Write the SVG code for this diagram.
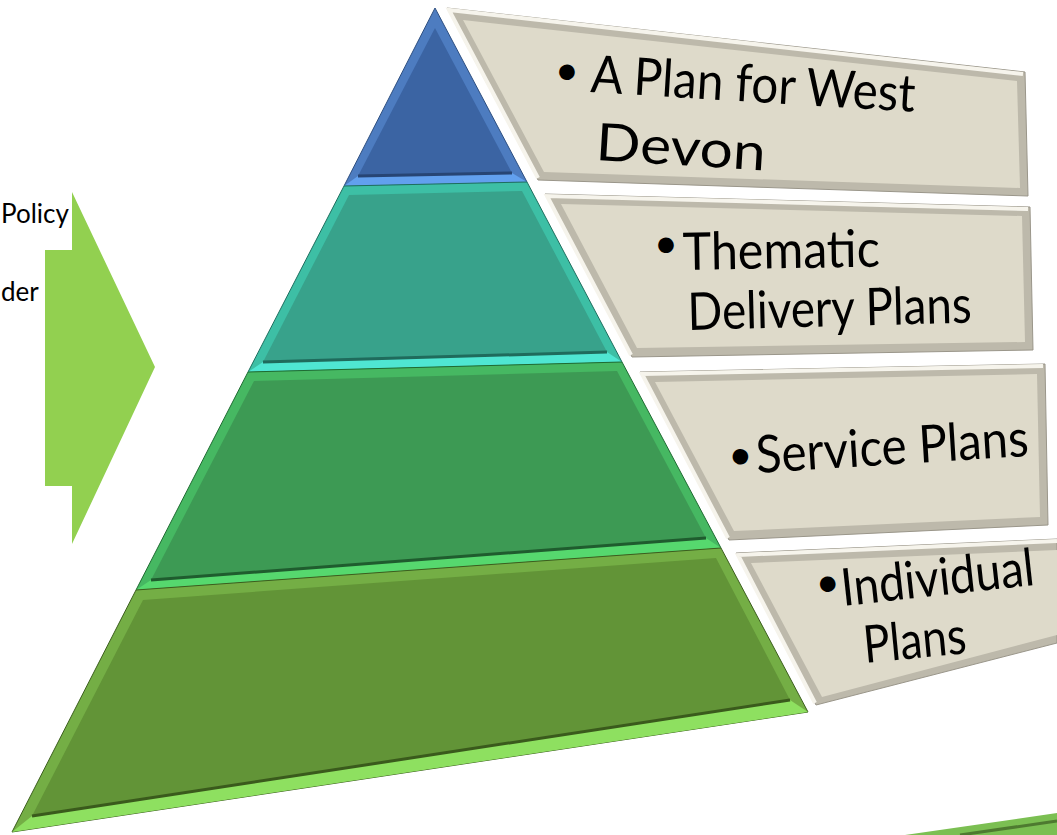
<svg xmlns="http://www.w3.org/2000/svg" width="1057" height="835" viewBox="0 0 1057 835">
<style>
.side{font-family:Lato,"Open Sans","Liberation Sans",sans-serif;font-size:26px;fill:#000}
.lbl{font-family:Lato,"Open Sans","Liberation Sans",sans-serif;font-size:52px;fill:#000}
.bul{font-family:Lato,"Open Sans","Liberation Sans",sans-serif;font-size:42px;fill:#000}
.boxo{fill:#BDB9AB;stroke:#9A968A;stroke-width:1}
.boxi{fill:#DEDACA}
.hl{fill:none;stroke:#F6F4EC;stroke-width:4}
</style>
<rect width="1057" height="835" fill="#FFFFFF"/>
<g id="side-text">
<text class="side" x="1" y="223">Policy</text>
<text class="side" x="1" y="301">der</text>
</g>
<g id="arrow">
<polygon points="45,250 72,250 72,192 155,367 72,544 72,486 45,486" fill="#92D050"/>
</g>
<g id="tier-blue">
<polygon points="435,8 527,182 344,186" fill="#4D7CC0" stroke="#2E4F80" stroke-width="1"/>
<polygon points="435,28 512,173 358,176" fill="#3B64A3"/>
<polygon points="358,176 512,173 527,182 344,186" fill="#62A0EE"/>
<polyline points="358,176 512,173" fill="none" stroke="#274574" stroke-width="3"/>
</g>
<g id="tier-teal">
<polygon points="344,186 527,182 622,362 248,372" fill="#3DBFA5" stroke="#1E6E5E" stroke-width="1"/>
<polygon points="349,195 522,191 607,352 263,362" fill="#38A28B"/>
<polygon points="263,362 607,352 622,362 248,372" fill="#4FE6D2"/>
<polyline points="263,362 607,352" fill="none" stroke="#1F6B5C" stroke-width="3"/>
</g>
<g id="tier-green">
<polygon points="248,372 622,362 721,548 136,590" fill="#46B862" stroke="#1F6B32" stroke-width="1"/>
<polygon points="254,381 617,371 706,538 151,580" fill="#3D9A54"/>
<polygon points="151,580 706,538 721,548 136,590" fill="#56D86E"/>
<polyline points="151,580 706,538" fill="none" stroke="#1F5C2E" stroke-width="3"/>
</g>
<g id="tier-olive">
<polygon points="136,590 721,548 808,712 12,832" fill="#74AE45" stroke="#3C5E1E" stroke-width="1"/>
<polygon points="143,600 716,558 790,700 32,816" fill="#629437"/>
<polygon points="32,816 790,700 808,712 12,832" fill="#8EE060"/>
<polyline points="32,816 790,700" fill="none" stroke="#3A5A1C" stroke-width="3"/>
</g>
<g id="box-1">
<polygon class="boxo" points="447,8 1025,72 1028,196 538,180"/>
<polygon class="boxi" points="463,20 1017,81 1020,188 544,172"/>
<polyline class="hl" points="538,178 449,10 1023,74"/>
<text class="bul" transform="translate(554,84) rotate(3.5)">•</text>
<text class="lbl" transform="translate(590,92) rotate(3.5)" textLength="325" lengthAdjust="spacingAndGlyphs">A Plan for West</text>
<text class="lbl" transform="translate(595,160) rotate(3.5)" textLength="170" lengthAdjust="spacingAndGlyphs">Devon</text>
</g>
<g id="box-2">
<polygon class="boxo" points="545,194 1030,207 1033,350 632,357"/>
<polygon class="boxi" points="561,204 1022,216 1025,342 637,348"/>
<polyline class="hl" points="631,355 547,196 1028,209"/>
<text class="bul" transform="translate(654,258) rotate(-1)">•</text>
<text class="lbl" transform="translate(683,270) rotate(-1)" textLength="197" lengthAdjust="spacingAndGlyphs">Thematic</text>
<text class="lbl" transform="translate(688,330) rotate(-1.5)" textLength="284" lengthAdjust="spacingAndGlyphs">Delivery Plans</text>
</g>
<g id="box-3">
<polygon class="boxo" points="640,372 1045,364 1048,525 729,540"/>
<polygon class="boxi" points="655,382 1037,374 1040,517 734,531"/>
<polyline class="hl" points="728,538 642,374 1043,366"/>
<text class="bul" transform="translate(729,470) rotate(-3.6)">•</text>
<text class="lbl" transform="translate(757,473) rotate(-3.6)" textLength="273" lengthAdjust="spacingAndGlyphs">Service Plans</text>
</g>
<g id="box-4">
<polygon class="boxo" points="736,553 1057,539 1057,643 816,705"/>
<polygon class="boxi" points="751,563 1057,550 1057,635 822,697"/>
<polyline class="hl" points="815,703 738,555 1057,541"/>
<text class="bul" transform="translate(817,598) rotate(-6.3)">•</text>
<text class="lbl" style="font-size:44px" transform="translate(843,606) rotate(-6.3) scale(1,1.18)" textLength="194" lengthAdjust="spacingAndGlyphs">Individual</text>
<text class="lbl" transform="translate(865,663) rotate(-5.5)" textLength="103" lengthAdjust="spacingAndGlyphs">Plans</text>
</g>
<g id="corner-strip">
<polygon points="905,835 1057,813 1057,835" fill="#7BBF52"/>
<polyline points="960,835 1057,821" fill="none" stroke="#4E7A30" stroke-width="3"/>
</g>
</svg>
